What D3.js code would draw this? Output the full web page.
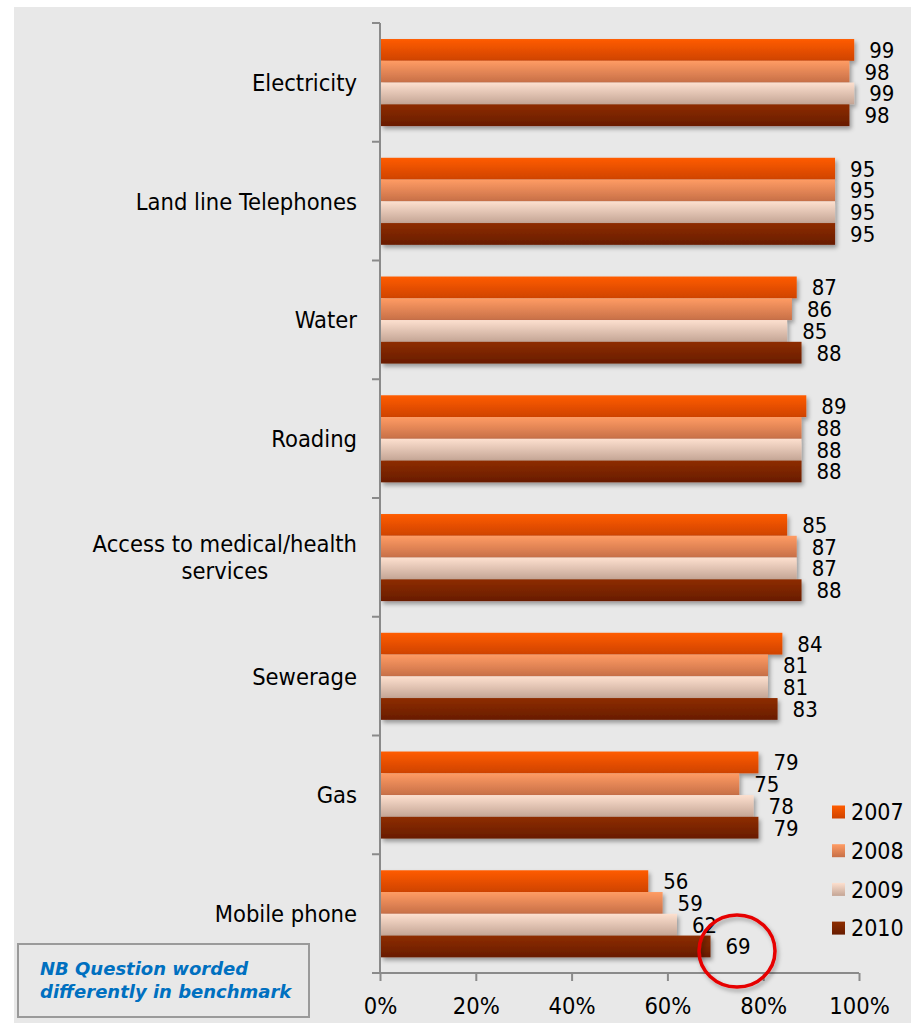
<!DOCTYPE html>
<html>
<head>
<meta charset="utf-8">
<script src="https://cdn.jsdelivr.net/npm/d3@7"></script>
<style>
  html, body { margin: 0; padding: 0; background: #ffffff; }
  svg { display: block; }
  .lbl { font-family: "DejaVu Sans Condensed", "DejaVu Sans", sans-serif; fill: #000; }
</style>
</head>
<body>
<svg id="chart" width="911" height="1027"></svg>
<script>
// Service availability by year (percent)
const categories = [
  "Electricity",
  "Land line Telephones",
  "Water",
  "Roading",
  "Access to medical/health services",
  "Sewerage",
  "Gas",
  "Mobile phone"
];
const years = ["2007", "2008", "2009", "2010"];
const values2007 = [99, 95, 87, 89, 85, 84, 79, 56];
const values2008 = [98, 95, 86, 88, 87, 81, 75, 59];
const values2009 = [99, 95, 85, 88, 87, 81, 78, 62];
const values2010 = [98, 95, 88, 88, 88, 83, 79, 69];
const xTicks = [0, 20, 40, 60, 80, 100];
const noteLines = ["NB Question worded", "differently in benchmark"];

const seriesValues = { "2007": values2007, "2008": values2008, "2009": values2009, "2010": values2010 };
// top/bottom gradient stops per series
const seriesColors = {
  "2007": ["#ff5c00", "#cf4300"],
  "2008": ["#ff9c64", "#c76f47"],
  "2009": ["#fde0cf", "#c4a595"],
  "2010": ["#8e2d00", "#681c00"]
};

const svg = d3.select("#chart");
const W = 911;

// panel background
svg.append("rect").attr("x", 14).attr("y", 7).attr("width", W - 14).attr("height", 1016).attr("fill", "#e8e8e8");

const defs = svg.append("defs");
years.forEach(yr => {
  const g = defs.append("linearGradient").attr("id", "grad" + yr)
    .attr("x1", 0).attr("y1", 0).attr("x2", 0).attr("y2", 1);
  g.append("stop").attr("offset", "0%").attr("stop-color", seriesColors[yr][0]);
  g.append("stop").attr("offset", "100%").attr("stop-color", seriesColors[yr][1]);
});
const sh = defs.append("filter").attr("id", "shadow")
  .attr("x", "-5%").attr("y", "-30%").attr("width", "115%").attr("height", "180%");
sh.append("feDropShadow").attr("dx", 2).attr("dy", 3).attr("stdDeviation", 2.2)
  .attr("flood-color", "#000").attr("flood-opacity", 0.35);
const sh2 = defs.append("filter").attr("id", "ringShadow")
  .attr("x", "-30%").attr("y", "-30%").attr("width", "160%").attr("height", "160%");
sh2.append("feDropShadow").attr("dx", 2).attr("dy", 3).attr("stdDeviation", 2)
  .attr("flood-color", "#000").attr("flood-opacity", 0.3);

const x = d3.scaleLinear().domain([0, 100]).range([380, 859]);
const y0 = d3.scaleBand().domain(categories).range([23, 973]).padding(0);
const bw = y0.bandwidth();
const y1 = d3.scaleBand().domain(years).range([bw * 0.135, bw * 0.868]).padding(0);

// bars
const groups = svg.append("g").selectAll("g").data(categories).join("g")
  .attr("transform", d => `translate(0,${y0(d)})`);

years.forEach(yr => {
  groups.append("rect")
    .attr("x", x(0) + 1)
    .attr("y", y1(yr))
    .attr("height", y1.bandwidth())
    .attr("width", (d, i) => x(seriesValues[yr][i]) - x(0) - 1)
    .attr("fill", `url(#grad${yr})`)
    .attr("filter", "url(#shadow)");
});

// value labels
years.forEach(yr => {
  groups.append("text").attr("class", "lbl")
    .attr("x", (d, i) => x(seriesValues[yr][i]) + 15)
    .attr("y", y1(yr) + y1.bandwidth() / 2)
    .attr("dy", "0.36em")
    .attr("font-size", 22)
    .text((d, i) => seriesValues[yr][i]);
});

// y axis (category axis) with ticks at band edges
const axisColor = "#8a8a8a";
svg.append("line").attr("x1", 380).attr("x2", 380).attr("y1", 23).attr("y2", 973)
  .attr("stroke", axisColor).attr("stroke-width", 2);
const bandEdges = categories.map(c => y0(c)).concat([y0.range()[1]]);
svg.append("g").selectAll("line").data(bandEdges).join("line")
  .attr("x1", 372).attr("x2", 380).attr("y1", d => d).attr("y2", d => d)
  .attr("stroke", axisColor).attr("stroke-width", 2);

// category labels
const catSize = 23.5;
const catLabels = svg.append("g");
categories.forEach(c => {
  const cy = y0(c) + bw / 2;
  if (c === "Access to medical/health services") {
    const lines = ["Access to medical/health", "services"];
    const t = catLabels.append("text").attr("class", "lbl").attr("font-size", catSize)
      .attr("text-anchor", "middle");
    lines.forEach((ln, k) => {
      t.append("tspan").attr("x", 0).attr("y", cy + (k - 0.5) * 27).attr("dy", "0.36em").text(ln);
    });
    const wMax = t.node().getBBox().width;
    t.selectAll("tspan").attr("x", 357 - wMax / 2);
  } else {
    catLabels.append("text").attr("class", "lbl").attr("font-size", catSize)
      .attr("text-anchor", "end").attr("x", 357).attr("y", cy).attr("dy", "0.36em").text(c);
  }
});

// x axis
const xAxis = svg.append("g").attr("transform", "translate(0,973)")
  .call(d3.axisBottom(x).tickValues(xTicks).tickSize(8).tickFormat(d => d + "%"));
xAxis.select(".domain").attr("stroke", axisColor).attr("stroke-width", 2)
  .attr("d", `M372,0H${x(100)}`);
xAxis.selectAll(".tick line").attr("stroke", axisColor).attr("stroke-width", 2);
xAxis.selectAll(".tick text").attr("class", "lbl").attr("font-size", 23.5)
  .attr("y", 0).attr("dy", 0).attr("transform", "translate(0,41)");

// legend
const legend = svg.append("g");
years.forEach((yr, i) => {
  const ly = 812 + i * 38.7;
  legend.append("rect").attr("x", 832).attr("y", ly - 6.5).attr("width", 13).attr("height", 13)
    .attr("fill", `url(#grad${yr})`);
  legend.append("text").attr("class", "lbl").attr("font-size", 23)
    .attr("x", 851).attr("y", ly).attr("dy", "0.36em").text(yr);
});

// note box
svg.append("rect").attr("x", 18).attr("y", 944).attr("width", 291).attr("height", 73)
  .attr("fill", "#e8e8e8").attr("stroke", "#9a9a9a").attr("stroke-width", 2);
noteLines.forEach((ln, k) => {
  svg.append("text").attr("x", 40).attr("y", 975 + k * 23)
    .attr("font-family", "'DejaVu Sans', sans-serif")
    .attr("font-size", 18).attr("font-weight", "bold").attr("font-style", "italic")
    .attr("fill", "#0070c0").text(ln);
});

// highlight ring around the 2010 mobile phone value
svg.append("ellipse").attr("cx", 737).attr("cy", 951).attr("rx", 38).attr("ry", 36)
  .attr("fill", "none").attr("stroke", "#e60000").attr("stroke-width", 3.5)
  .attr("filter", "url(#ringShadow)");
</script>
</body>
</html>
